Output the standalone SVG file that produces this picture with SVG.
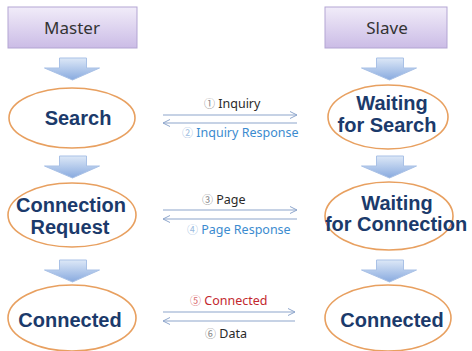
<svg xmlns="http://www.w3.org/2000/svg" width="472" height="351" viewBox="0 0 472 351">
<defs>
<linearGradient id="gBox" x1="0" y1="0" x2="0" y2="1">
<stop offset="0" stop-color="#f1ecf9"/><stop offset="1" stop-color="#cbbce6"/>
</linearGradient>
<linearGradient id="gArr" x1="0" y1="0" x2="0" y2="1">
<stop offset="0" stop-color="#dde8f7"/><stop offset="1" stop-color="#88aadf"/>
</linearGradient>
<marker id="ah" markerWidth="8" markerHeight="8" refX="7" refY="4" orient="auto" markerUnits="userSpaceOnUse">
<path d="M0,0.5 L7,4 L0,7.5" fill="none" stroke="#8ea6cc" stroke-width="1"/>
</marker>
<path id="down" d="M-12.5,0 H14.5 V10 H27.5 L0.5,22 L-27.5,10 H-12.5 Z"/>
</defs>
<style>
.box{fill:url(#gBox);stroke:#b3a5d3;stroke-width:1}
.hdr{font-family:"Noto Sans","Liberation Sans",sans-serif;font-size:17px;fill:#333;text-anchor:middle}
.darr{fill:url(#gArr);stroke:#a9c1e6;stroke-width:1}
.ell{fill:#fff;stroke:#e8a060;stroke-width:1.6}
.nt{font-family:"Liberation Sans",Arial,sans-serif;font-weight:bold;font-size:20px;fill:#1b3a6b;text-anchor:middle}
.ln{stroke:#8ea6cc;stroke-width:1.2;fill:none;marker-end:url(#ah)}
.lb{font-family:"Noto Sans","Liberation Sans","Noto Sans CJK KR",sans-serif;font-size:12.5px}
.num{font-family:"Noto Sans CJK KR","DejaVu Sans",sans-serif;font-size:11px}
.blk{fill:#2a2a2a}.blu{fill:#3b8bcf}.red{fill:#c3282e}
</style>
<g id="master"><rect class="box" x="8" y="7" width="129" height="41"/><text class="hdr" x="72" y="34">Master</text></g>
<g id="slave"><rect class="box" x="325" y="7" width="122" height="41"/><text class="hdr" x="387" y="34">Slave</text></g>
<g id="flow-arrows">
<use href="#down" class="darr" x="72" y="58"/>
<use href="#down" class="darr" x="389" y="58"/>
<use href="#down" class="darr" x="72" y="156"/>
<use href="#down" class="darr" x="389" y="156"/>
<use href="#down" class="darr" x="72" y="260"/>
<use href="#down" class="darr" x="389" y="260"/>
</g>
<g id="search"><ellipse class="ell" cx="72" cy="118" rx="63" ry="30"/><text class="nt" x="78" y="125">Search</text></g>
<g id="waiting-search"><ellipse class="ell" cx="388" cy="117" rx="60" ry="32"/><text class="nt" x="392" y="110">Waiting</text><text class="nt" x="387" y="132">for Search</text></g>
<g id="conn-request"><ellipse class="ell" cx="72" cy="215" rx="64" ry="32"/><text class="nt" x="71" y="212">Connection</text><text class="nt" x="70" y="234">Request</text></g>
<g id="waiting-conn"><ellipse class="ell" cx="389" cy="216" rx="64" ry="34"/><text class="nt" x="397" y="210">Waiting</text><text class="nt" x="396" y="231">for Connection</text></g>
<g id="connected-m"><ellipse class="ell" cx="72" cy="318" rx="64" ry="33"/><text class="nt" x="70" y="327">Connected</text></g>
<g id="connected-s"><ellipse class="ell" cx="388" cy="318" rx="63" ry="33"/><text class="nt" x="392" y="327">Connected</text></g>
<g id="connectors">
<line class="ln" x1="163" y1="115" x2="297" y2="115"/>
<line class="ln" x1="297" y1="123" x2="163" y2="123"/>
<line class="ln" x1="163" y1="210" x2="297" y2="210"/>
<line class="ln" x1="297" y1="219" x2="163" y2="219"/>
<line class="ln" x1="163" y1="312" x2="295" y2="312"/>
<line class="ln" x1="295" y1="321" x2="163" y2="321"/>
<text class="lb blk" x="204" y="108"><tspan class="num" fill="#888">①</tspan> Inquiry</text>
<text class="lb blu" x="182" y="137"><tspan class="num" fill="#9bbbe0">②</tspan> Inquiry Response</text>
<text class="lb blk" x="202" y="204"><tspan class="num" fill="#888">③</tspan> Page</text>
<text class="lb blu" x="187" y="234"><tspan class="num" fill="#9bbbe0">④</tspan> Page Response</text>
<text class="lb red" x="190" y="305"><tspan class="num" fill="#d96a6e">⑤</tspan> Connected</text>
<text class="lb blk" x="205" y="338"><tspan class="num" fill="#888">⑥</tspan> Data</text>
</g>
</svg>
